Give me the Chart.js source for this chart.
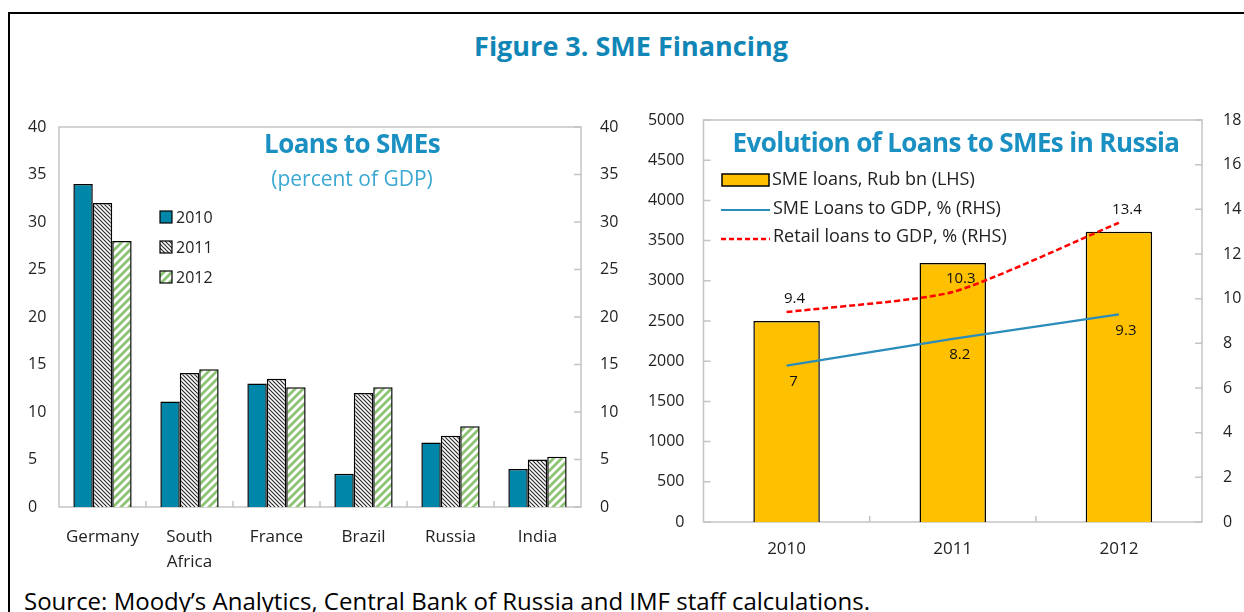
<!DOCTYPE html>
<html>
<head>
<meta charset="utf-8">
<script src="https://cdn.jsdelivr.net/npm/chart.js@4"></script>
<style>
  body { margin: 0; width: 1244px; height: 612px; overflow: hidden; background: #fff; position: relative; font-family: 'Open Sans', sans-serif; }
  #frame { position: absolute; left: 8px; top: 12px; width: 1400px; height: 800px; border: 2px solid #000; }
  #figTitle { position: absolute; left: 0; top: 27px; width: 1262px; text-align: center; font: bold 27px 'Open Sans', sans-serif; color: #0f86b6; }
  #source { position: absolute; left: 24px; top: 584px; font-size: 24px; color: #000; white-space: nowrap; }
  #left { position: absolute; left: 0; top: 100px; }
  #right { position: absolute; left: 640px; top: 100px; }
</style>
</head>
<body>
<div id="frame"></div>
<div id="figTitle">Figure 3. SME Financing</div>
<canvas id="left" width="640" height="480"></canvas>
<canvas id="right" width="604" height="480"></canvas>
<div id="source">Source: Moody’s Analytics, Central Bank of Russia and IMF staff calculations.</div>
<script>
// left panel: loans to SMEs, percent of GDP
const countries = ['Germany', ['South', 'Africa'], 'France', 'Brazil', 'Russia', 'India'];
const share2010 = [34, 11.1, 13, 3.5, 6.8, 4];
const share2011 = [32, 14.1, 13.5, 12, 7.5, 5];
const share2012 = [28, 14.5, 12.6, 12.6, 8.5, 5.3];

// right panel: Russia
const years = ['2010', '2011', '2012'];
const smeLoansRub = [2500, 3220, 3610];
const smeLoansGdp = [7, 8.2, 9.3];
const retailLoansGdp = [9.4, 10.3, 13.4];

Chart.defaults.font.family = "'Open Sans', sans-serif";
Chart.defaults.color = '#222';

const TEAL = '#0086a9';
const GOLD = '#ffc000';
const BLUE = '#2a8cba';
const RED = '#ff0000';
const AXIS = '#c4c4c4';
const TITLE = '#1a90c2';

function hatch(bg, fg, size, lw, forward) {
  const c = document.createElement('canvas');
  c.width = c.height = size;
  const x = c.getContext('2d');
  x.fillStyle = bg;
  x.fillRect(0, 0, size, size);
  x.strokeStyle = fg;
  x.lineWidth = lw;
  x.beginPath();
  for (const o of [-size, 0, size]) {
    if (forward) {
      x.moveTo(o - 1, size + 1);
      x.lineTo(o + size + 1, -1);
    } else {
      x.moveTo(o - 1, -1);
      x.lineTo(o + size + 1, size + 1);
    }
  }
  x.stroke();
  return x.createPattern(c, 'repeat');
}

const pat2011 = hatch('#fff', '#2a2a2a', 4, 1.2, false);
const pat2012 = hatch('#fff', '#8cc474', 8, 2.8, true);

function boxAndTicks(ctx, chart, yKeys) {
  const a = chart.chartArea;
  ctx.save();
  ctx.strokeStyle = AXIS;
  ctx.lineWidth = 1.5;
  ctx.strokeRect(a.left, a.top, a.right - a.left, a.bottom - a.top);
  ctx.beginPath();
  yKeys.forEach((k) => {
    const s = chart.scales[k];
    s.ticks.forEach((t) => {
      const y = s.getPixelForValue(t.value);
      if (s.position === 'left') { ctx.moveTo(a.left, y); ctx.lineTo(a.left + 7, y); }
      else { ctx.moveTo(a.right - 7, y); ctx.lineTo(a.right, y); }
    });
  });
  const xs = chart.scales.x;
  for (let i = 1; i < xs.ticks.length; i++) {
    const bx = (xs.getPixelForValue(i - 1) + xs.getPixelForValue(i)) / 2;
    ctx.moveTo(bx, a.bottom);
    ctx.lineTo(bx, a.bottom - 6);
  }
  ctx.stroke();
  ctx.restore();
}

const leftDecor = {
  id: 'leftDecor',
  beforeDatasetsDraw(chart) {
    boxAndTicks(chart.ctx, chart, ['y2']);
  },
  afterDraw(chart) {
    const ctx = chart.ctx;
    ctx.save();
    ctx.textAlign = 'center';
    ctx.textBaseline = 'middle';
    ctx.fillStyle = TITLE;
    ctx.letterSpacing = '-0.6px';
    ctx.font = "bold 26px 'Open Sans', sans-serif";
    ctx.fillText('Loans to SMEs', 352, 46);
    ctx.letterSpacing = '0px';
    ctx.fillStyle = '#3aa8d2';
    ctx.font = "21px 'Open Sans', sans-serif";
    ctx.fillText('(percent of GDP)', 352, 80);
    // legend
    const items = [['2010', TEAL], ['2011', pat2011], ['2012', pat2012]];
    ctx.textAlign = 'left';
    ctx.font = "16px 'Open Sans', sans-serif";
    items.forEach((it, i) => {
      const cy = 117 + i * 30;
      ctx.fillStyle = it[1];
      ctx.fillRect(160, cy - 6, 12, 12);
      ctx.strokeStyle = '#000';
      ctx.lineWidth = 1.2;
      ctx.strokeRect(160, cy - 6, 12, 12);
      ctx.fillStyle = '#222';
      ctx.fillText(it[0], 176, cy + 1);
    });
    ctx.restore();
  }
};

const rightDecor = {
  id: 'rightDecor',
  beforeDatasetsDraw(chart) {
    boxAndTicks(chart.ctx, chart, ['y', 'y1']);
  },
  afterDraw(chart) {
    const ctx = chart.ctx;
    ctx.save();
    ctx.textAlign = 'center';
    ctx.textBaseline = 'middle';
    ctx.fillStyle = TITLE;
    ctx.letterSpacing = '-0.6px';
    ctx.font = "bold 26px 'Open Sans', sans-serif";
    ctx.fillText('Evolution of Loans to SMEs in Russia', 316, 45);
    ctx.letterSpacing = '0px';
    // legend
    ctx.font = "18px 'Open Sans', sans-serif";
    ctx.textAlign = 'left';
    ctx.fillStyle = GOLD;
    ctx.fillRect(82, 74, 47, 12);
    ctx.strokeStyle = '#000';
    ctx.lineWidth = 1.5;
    ctx.strokeRect(82, 74, 47, 12);
    ctx.fillStyle = '#222';
    ctx.fillText('SME loans, Rub bn (LHS)', 132, 80);
    ctx.strokeStyle = BLUE;
    ctx.lineWidth = 2.2;
    ctx.beginPath(); ctx.moveTo(81, 110); ctx.lineTo(130, 110); ctx.stroke();
    ctx.fillText('SME Loans to GDP, % (RHS)', 133, 109);
    ctx.strokeStyle = RED;
    ctx.lineWidth = 2.5;
    ctx.setLineDash([5, 3]);
    ctx.beginPath(); ctx.moveTo(81, 139); ctx.lineTo(130, 139); ctx.stroke();
    ctx.setLineDash([]);
    ctx.fillText('Retail loans to GDP, % (RHS)', 133, 137);
    // data labels
    ctx.textAlign = 'center';
    ctx.font = "15px 'Open Sans', sans-serif";
    ctx.fillStyle = '#111';
    chart.getDatasetMeta(1).data.forEach((p, i) => {
      ctx.fillText(String(smeLoansGdp[i]), p.x + 7, p.y + 16);
    });
    chart.getDatasetMeta(2).data.forEach((p, i) => {
      ctx.fillText(String(retailLoansGdp[i]), p.x + 8, p.y - 13);
    });
    ctx.restore();
  }
};

const noGrid = { display: false, drawTicks: false };
const plain = (v) => String(v);
// fixed axis sizes, and no extra label overhang padding
const fixY = (w) => (s) => { s.width = w; s.paddingTop = 0; s.paddingBottom = 0; };
const fixX = (h) => (s) => { s.height = h; s.paddingLeft = 0; s.paddingRight = 0; };

new Chart(document.getElementById('left'), {
  type: 'bar',
  data: {
    labels: countries,
    datasets: [
      { label: '2010', data: share2010, backgroundColor: TEAL },
      { label: '2011', data: share2011, backgroundColor: pat2011 },
      { label: '2012', data: share2012, backgroundColor: pat2012 },
    ].map((d) => Object.assign(d, {
      borderColor: '#000', borderWidth: 1.5, categoryPercentage: 0.67, barPercentage: 1,
    })),
  },
  options: {
    responsive: false,
    animation: false,
    layout: { padding: { top: 27, left: 28, right: 0, bottom: 0 } },
    plugins: { legend: { display: false }, tooltip: { enabled: false } },
    scales: {
      x: {
        grid: noGrid, border: { display: false },
        ticks: { padding: 18, font: { size: 17, lineHeight: 1.45 }, maxRotation: 0, autoSkip: false },
        afterFit: fixX(73),
      },
      y: {
        position: 'left', min: 0, max: 40,
        grid: noGrid, border: { display: false },
        ticks: { stepSize: 5, crossAlign: 'far', font: { size: 16 }, callback: plain },
        afterFit: fixY(31),
      },
      y2: {
        position: 'right', min: 0, max: 40,
        grid: noGrid, border: { display: false },
        ticks: { stepSize: 5, padding: 19, font: { size: 16 }, callback: plain },
        afterFit: fixY(59),
      },
    },
  },
  plugins: [leftDecor],
});

new Chart(document.getElementById('right'), {
  type: 'bar',
  data: {
    labels: years,
    datasets: [
      {
        type: 'bar', label: 'SME loans, Rub bn (LHS)', data: smeLoansRub, yAxisID: 'y',
        backgroundColor: GOLD, borderColor: '#000', borderWidth: 1.5,
        categoryPercentage: 0.4, barPercentage: 1, order: 3,
      },
      {
        type: 'line', label: 'SME Loans to GDP, % (RHS)', data: smeLoansGdp, yAxisID: 'y1',
        borderColor: BLUE, borderWidth: 2.2, pointRadius: 0, tension: 0, order: 2,
      },
      {
        type: 'line', label: 'Retail loans to GDP, % (RHS)', data: retailLoansGdp, yAxisID: 'y1',
        borderColor: RED, borderWidth: 2.5, borderDash: [6, 3], pointRadius: 0,
        tension: 0.2, order: 1,
      },
    ],
  },
  options: {
    responsive: false,
    animation: false,
    layout: { padding: { top: 20, left: 0, right: 0, bottom: 0 } },
    plugins: { legend: { display: false }, tooltip: { enabled: false } },
    scales: {
      x: {
        offset: true,
        grid: noGrid, border: { display: false },
        ticks: { padding: 17, font: { size: 17 } },
        afterFit: fixX(58),
      },
      y: {
        position: 'left', min: 0, max: 5000,
        grid: noGrid, border: { display: false },
        ticks: { stepSize: 500, padding: 19, font: { size: 16 }, callback: plain },
        afterFit: fixY(63.5),
      },
      y1: {
        position: 'right', min: 0, max: 18,
        grid: noGrid, border: { display: false },
        ticks: { stepSize: 2, padding: 21, font: { size: 16 }, callback: plain },
        afterFit: fixY(42),
      },
    },
  },
  plugins: [rightDecor],
});
</script>
</body>
</html>
